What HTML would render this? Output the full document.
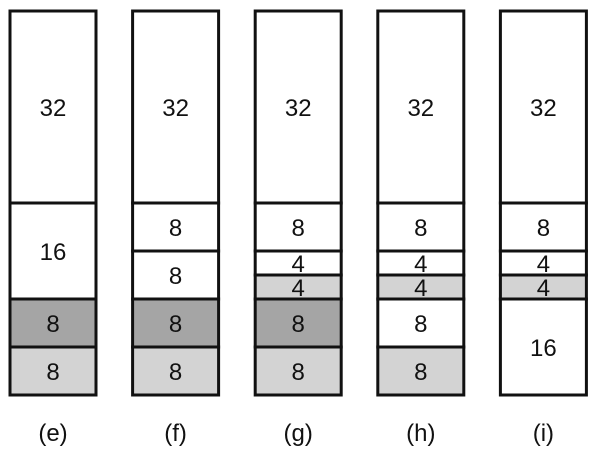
<!DOCTYPE html>
<html><head><meta charset="utf-8"><style>
body{margin:0;background:#fff;width:595px;height:457px;overflow:hidden}
svg{display:block}
text{font-family:"Liberation Sans",sans-serif;font-size:24px;fill:#111}
</style></head><body>
<svg id="chart" width="595" height="457"></svg>
<script>
const columns = ["(e)","(f)","(g)","(h)","(i)"];
const blockSizes = [
  [32,16,8,8],
  [32,8,8,8,8],
  [32,8,4,4,8,8],
  [32,8,4,4,8,8],
  [32,8,4,4,16]
];
const blockShades = [
  ["w","w","d","l"],
  ["w","w","w","d","l"],
  ["w","w","w","l","d","l"],
  ["w","w","w","l","w","l"],
  ["w","w","w","l","w"]
];
const fills = {w:"#ffffff", l:"#d3d3d3", d:"#a5a5a5"};
const NS="http://www.w3.org/2000/svg";
const svg=document.getElementById('chart');
const top0=11, unit=6, colW=86;
function colX(i){return 10+i*122.6;}
function yAt(u){return top0+u*unit;}
columns.forEach((c,i)=>{
  const x=colX(i);
  let acc=0;
  blockSizes[i].forEach((s,j)=>{
    const r=document.createElementNS(NS,'rect');
    
    
    r.setAttribute('x',x);r.setAttribute('y',yAt(acc));
    r.setAttribute('width',colW);r.setAttribute('height',s*unit);
    r.setAttribute('fill',fills[blockShades[i][j]]);
    r.setAttribute('stroke','#111');r.setAttribute('stroke-width','3');
    svg.appendChild(r);
    const t=document.createElementNS(NS,'text');
    
    
    t.setAttribute('x',x+colW/2);
    t.setAttribute('y',yAt(acc+s/2)+9);
    t.setAttribute('text-anchor','middle');
    t.textContent=s;
    svg.appendChild(t);
    acc+=s;
  });
  const l=document.createElementNS(NS,'text');
  
  
  l.setAttribute('x',x+colW/2);l.setAttribute('y',441);
  l.setAttribute('text-anchor','middle');
  l.textContent=c;
  svg.appendChild(l);
});
</script>
</body></html>
